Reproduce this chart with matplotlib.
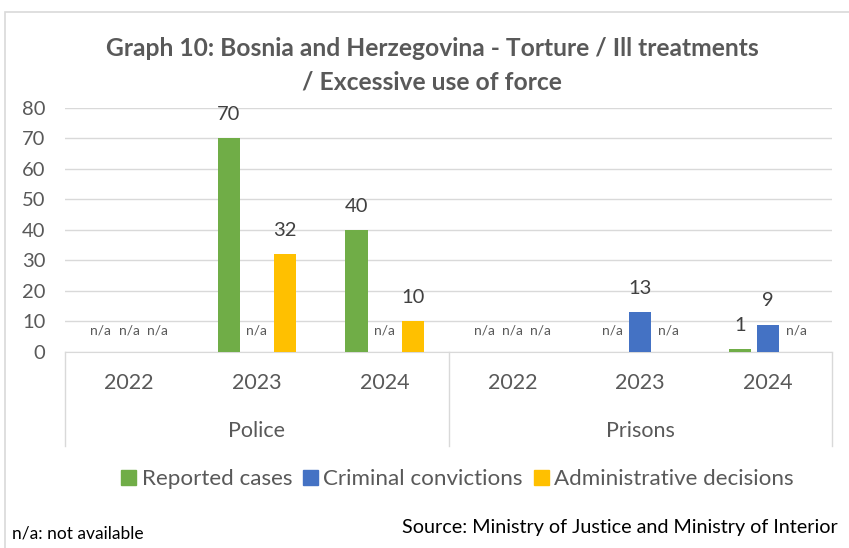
import matplotlib
matplotlib.use("Agg")
import matplotlib.pyplot as plt
import numpy as np
from matplotlib.lines import Line2D
from matplotlib.patches import Rectangle

plt.rcParams['font.family'] = ['Lato', 'DejaVu Sans']

groups = ["Police", "Prisons"]
years = ["2022", "2023", "2024"]
series = ["Reported cases", "Criminal convictions", "Administrative decisions"]
colors = ["#70AD47", "#4472C4", "#FFC000"]
# None = n/a
reported = [None, 70, 40, None, None, 1]
criminal = [None, None, None, None, 13, 9]
admin = [None, 32, 10, None, None, None]
values = [reported, criminal, admin]

TXT = "#595959"
fig = plt.figure(figsize=(8.49, 5.48), dpi=100)
ax = fig.add_axes([0.0766, 0.3577, 0.9034, 0.4453])

n = len(groups) * len(years)
x = np.arange(n)
offs = [-0.22, 0.0, 0.22]
bw = 0.173
for si, (vals, col) in enumerate(zip(values, colors)):
    for i, v in enumerate(vals):
        xp = x[i] + offs[si]
        if v is None:
            ax.text(xp, 7, "n/a", ha="center", va="center", fontsize=10, color=TXT)
        else:
            ax.bar(xp, v, width=bw, color=col, zorder=3)
            ax.annotate(str(v), (xp, v), xytext=(0, 17), textcoords="offset points",
                        ha="center", va="center", fontsize=14.5, color="#404040")

ax.set_xlim(-0.5, n - 0.5)
ax.set_ylim(0, 80)
ax.set_yticks(range(0, 81, 10))
ax.tick_params(axis="y", length=0, pad=14, labelsize=14.5, labelcolor=TXT)
ax.set_xticks([])
ax.grid(axis="y", color="#D9D9D9", linewidth=1, zorder=0)
for s in ["top", "right", "left"]:
    ax.spines[s].set_visible(False)
ax.spines["bottom"].set_color("#D9D9D9")

# multi-level category axis
tr = ax.get_xaxis_transform()
for xb in [-0.5, 2.5, 5.5]:
    ax.add_line(Line2D([xb, xb], [0, -0.385], transform=tr, color="#D9D9D9", lw=1, clip_on=False))
for i in range(n):
    ax.text(x[i], -0.127, years[i % 3], transform=tr, ha="center", va="center", fontsize=15.5, color=TXT)
for gi, g in enumerate(groups):
    ax.text(gi * 3 + 1, -0.325, g, transform=tr, ha="center", va="center", fontsize=15.5, color=TXT)

fig.text(0.509, 0.912, "Graph 10: Bosnia and Herzegovina - Torture / Ill treatments",
         ha="center", va="center", fontsize=17.7, fontweight="bold", color=TXT)
fig.text(0.509, 0.850, "/ Excessive use of force",
         ha="center", va="center", fontsize=17.7, fontweight="bold", color=TXT)

handles = [Rectangle((0, 0), 1, 1, color=c) for c in colors]
fig.legend(handles, series, loc="center", bbox_to_anchor=(0.539, 0.126), ncol=3, frameon=False,
           fontsize=16.1, labelcolor=TXT, handlelength=0.65, handleheight=0.65, handletextpad=0.25,
           columnspacing=0.5)

fig.text(0.014, 0.027, "n/a: not available", ha="left", va="center", fontsize=12.5, color="black")
fig.text(0.987, 0.038, "Source: Ministry of Justice and Ministry of Interior", ha="right", va="center",
         fontsize=14.2, color="black")

fig.add_artist(Rectangle((5 / 849, -0.05), 1.1, 1.05 - 12 / 548, transform=fig.transFigure,
                         fill=False, edgecolor="#D9D9D9", lw=1.2))

fig.savefig("out.png", dpi=100)
